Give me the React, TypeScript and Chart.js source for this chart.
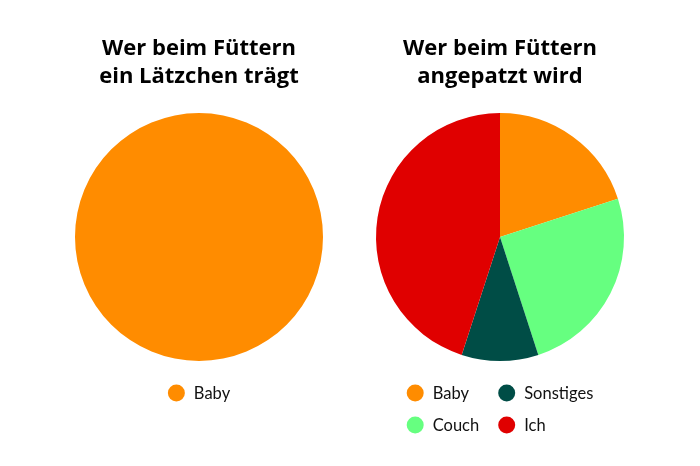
import React, { useEffect, useRef } from 'react';
import { Chart, registerables } from 'chart.js';

Chart.register(...registerables);

// left chart
const bibLabels = ['Baby'];
const bibValues = [100];
const bibColors = ['#ff8c00'];
const bibTitle = ['Wer beim Füttern', 'ein Lätzchen trägt'];

// right chart
const messLabels = ['Baby', 'Couch', 'Sonstiges', 'Ich'];
const messValues = [20, 25, 10, 45];
const messColors = ['#ff8c00', '#66ff80', '#004d46', '#e00000'];
const messTitle = ['Wer beim Füttern', 'angepatzt wird'];

const FONT = 'Lato, "Open Sans", sans-serif';
const TITLE_FONT = '"Open Sans", Lato, sans-serif';

// legend in columns (filled top to bottom), drawn under the pie
const columnLegend = {
  id: 'columnLegend',
  afterDraw(chart: any, _args: any, opts: any) {
    const { ctx, chartArea } = chart;
    const labels = chart.data.labels as string[];
    const colors = chart.data.datasets[0].backgroundColor as string[];
    const rows = opts.rows || 1;
    const r = 8.5;
    const gap = 9;
    const colGap = 19;
    const rowStep = 32;
    ctx.save();
    ctx.font = `16.5px ${FONT}`;
    ctx.textBaseline = 'middle';
    const cols = Math.ceil(labels.length / rows);
    const colW: number[] = [];
    for (let c = 0; c < cols; c++) {
      let w = 0;
      for (let i = c * rows; i < Math.min(labels.length, (c + 1) * rows); i++) {
        w = Math.max(w, ctx.measureText(labels[i]).width);
      }
      colW.push(r * 2 + gap + w);
    }
    const total = colW.reduce((a, b) => a + b, 0) + colGap * (cols - 1);
    let x = (chartArea.left + chartArea.right) / 2 - total / 2;
    for (let c = 0; c < cols; c++) {
      for (let i = c * rows; i < Math.min(labels.length, (c + 1) * rows); i++) {
        const y = chartArea.bottom + rowStep * (i - c * rows + 1);
        ctx.fillStyle = colors[i];
        ctx.beginPath();
        ctx.arc(x + r, y, r, 0, Math.PI * 2);
        ctx.fill();
        ctx.fillStyle = '#111';
        ctx.fillText(labels[i], x + r * 2 + gap, y + 1);
      }
      x += colW[c] + colGap;
    }
    ctx.restore();
  },
};

function PieBox({ labels, values, colors, title, rows, left }: any) {
  const canvasRef = useRef<HTMLCanvasElement | null>(null);

  useEffect(() => {
    if (!canvasRef.current) return;
    const chart = new Chart(canvasRef.current, {
      type: 'pie',
      data: {
        labels,
        datasets: [{ data: values, backgroundColor: colors, borderWidth: 0 }],
      },
      options: {
        responsive: false,
        animation: false,
        events: [],
        layout: { padding: { top: 0, left: 0, right: 0, bottom: 97 } },
        plugins: {
          legend: { display: false },
          tooltip: { enabled: false },
          title: {
            display: true,
            text: title,
            color: '#000',
            font: { family: TITLE_FONT, size: 22, weight: 'bold', lineHeight: 1.25 },
            padding: { top: 27, bottom: 23 },
          },
          columnLegend: { rows },
        } as any,
      },
      plugins: [columnLegend],
    });
    return () => chart.destroy();
  }, []);

  return (
    <canvas
      ref={canvasRef}
      width={300}
      height={450}
      style={{ position: 'absolute', left, top: 0 }}
    />
  );
}

export default function App() {
  return (
    <div style={{ position: 'relative', width: 684, height: 450 }}>
      <PieBox labels={bibLabels} values={bibValues} colors={bibColors} title={bibTitle} rows={1} left={41} />
      <PieBox labels={messLabels} values={messValues} colors={messColors} title={messTitle} rows={2} left={342} />
    </div>
  );
}
